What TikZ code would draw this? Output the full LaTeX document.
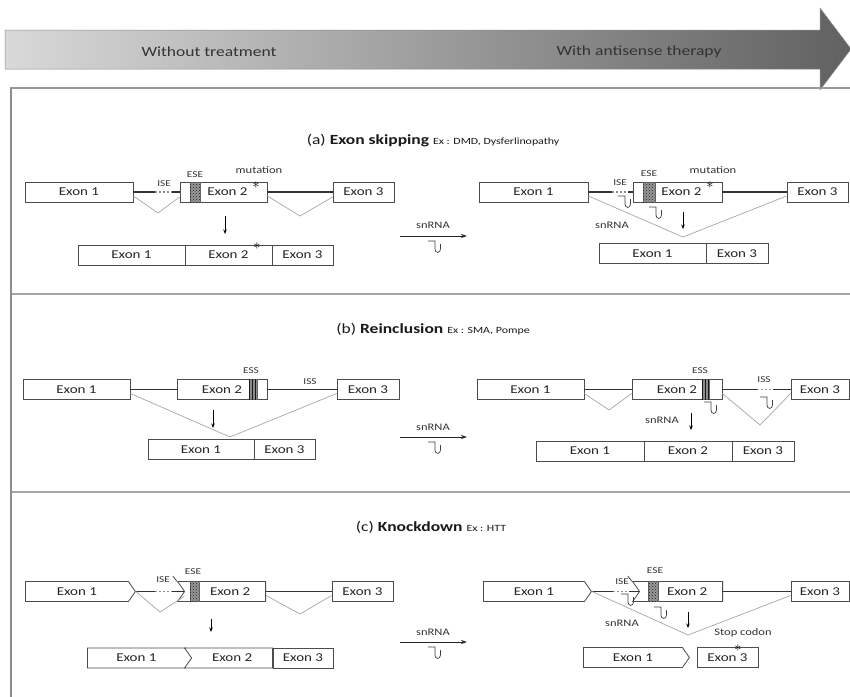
\documentclass[tikz,border=0pt]{standalone}
\usepackage{fontspec}
\setmainfont{Carlito}[FakeStretch=1.25]
\usetikzlibrary{patterns,shapes.symbols,arrows.meta,calc}
\tikzset{
  exon/.style={draw=black!70, fill=white, line width=0.8pt, minimum height=20pt, inner sep=0pt, font=\fontsize{12}{12}\selectfont, text=black!85},
  pent/.style={exon, shape=signal, signal to=east, signal pointer angle=110},
  notch/.style={exon, shape=signal, signal from=west, signal to=nowhere, signal pointer angle=110},
  intron/.style={draw=black!80, line width=1.4pt},
  isedash/.style={draw=black!45, line width=1.1pt, dash pattern=on 2pt off 2pt},
  splice/.style={draw=black!35, line width=0.7pt},
  lab/.style={font=\fontsize{9}{9}\selectfont, text=black!80, inner sep=0pt},
  lab2/.style={font=\fontsize{10}{10}\selectfont, text=black!80, inner sep=0pt},
  title/.style={font=\fontsize{14}{14}\selectfont, text=black!90, inner sep=0pt},
  bandtxt/.style={font=\fontsize{14}{14}\selectfont, text=black!80, inner sep=0pt},
  mut/.style={font=\fontsize{15}{15}\selectfont, text=black, inner sep=0pt},
  downarr/.style={draw=black, line width=0.9pt, -{Stealth[length=4.5pt,width=3.5pt]}},
  treat/.style={draw=black!85, line width=0.8pt, -{Stealth[length=6pt,width=4pt]}},
  esehatch/.style={fill=black!40, postaction={pattern=crosshatch dots, pattern color=black!90}, draw=black!60, line width=0.4pt},
  esshatch/.style={fill=black!45, postaction={pattern=vertical lines, pattern color=black!90}, draw=black!60, line width=0.4pt},
  divider/.style={draw=black!35, line width=1.3pt},
  snsym/.pic={\draw[black!75, line width=0.75pt] (-7,0) -- (0,0) -- (0,8) .. controls (0,12.5) and (5.5,12.5) .. (5.5,8) -- (5.5,3);}
}
\newcommand{\smallex}{\fontsize{9.5}{10}\selectfont}
\begin{document}
\begin{tikzpicture}[x=1pt,y=-1pt]
\useasboundingbox (0,0) rectangle (850,696);
\fill[white] (0,0) rectangle (850,696);
% top band
\path[left color=black!15, right color=black!62, draw=black!45, line width=0.5pt]
  (5,30) -- (820,30) -- (820,8) -- (851,49) -- (820,90) -- (820,69) -- (5,69) -- cycle;
\node[bandtxt] (wo) at (209,52) {Without treatment};
\node[bandtxt] (wi) at (639,52) {With antisense therapy};
% frame
\draw[black!45, line width=2.6pt] (11,88) -- (11,697);
\draw[black!40, line width=1.3pt] (10,88) -- (851,88);
\draw[divider] (12,294) -- (851,294);
\draw[divider] (12,492) -- (851,492);

% ================= (a) =================
\node[title] (ta) at (433,141) {(a) \textbf{Exon skipping} {\smallex Ex : DMD, Dysferlinopathy}};
% left
\node[exon, minimum width=108] (a1) at (79,192) {Exon 1};
\node[exon, minimum width=87] (a2) at (223.5,192) {\hspace{8pt}Exon 2};
\node[exon, minimum width=61] (a3) at (363.5,192) {Exon 3};
\draw[esehatch] (190,182) rectangle (200,202);
\coordinate (aI1) at (155,192); \coordinate (aI2) at (172,192);
\draw[intron] (a1.east) -- (aI1); \draw[isedash] (aI1) -- (aI2); \draw[intron] (aI2) -- (a2.west);
\draw[intron] (a2.east) -- (a3.west);
\coordinate (aV1) at (158,213); \coordinate (aV2) at (300,216);
\draw[splice] ([yshift=-4pt]a1.east) -- (aV1) -- ([yshift=-5pt]a2.west);
\draw[splice] ([yshift=-4pt]a2.east) -- (aV2) -- ([yshift=-5pt]a3.west);
\node[lab] (aise) at (164,184) {ISE};
\node[lab] (aese) at (195,175) {ESE};
\node[lab2] (amut) at (259,170) {mutation};
\node[mut] (ast1) at (256,185.5) {$\ast$};
\coordinate (ad1) at (225,216); \coordinate (ad2) at (225,234);
\draw[downarr] (ad1) -- (ad2);
\node[exon, minimum width=107] (ab1) at (131.5,255) {Exon 1};
\node[exon, minimum width=87] (ab2) at (228.5,255) {Exon 2};
\node[exon, minimum width=61] (ab3) at (302.5,255) {Exon 3};
\node[mut] (ast2) at (257,246) {$\ast$};
% middle
\node[lab2] (asn) at (433,225) {snRNA};
\coordinate (at1) at (400,236); \coordinate (at2) at (467,236);
\draw[treat] (at1) -- (at2);
\pic at (435,241) {snsym};
% right
\node[exon, minimum width=109] (ar1) at (533.5,192) {Exon 1};
\node[exon, minimum width=89] (ar2) at (677.5,192) {\hspace{8pt}Exon 2};
\node[exon, minimum width=61] (ar3) at (817.5,192) {Exon 3};
\draw[esehatch] (643,182) rectangle (655,202);
\coordinate (arI1) at (612,192); \coordinate (arI2) at (628,192);
\draw[intron] (ar1.east) -- (arI1); \draw[isedash] (arI1) -- (arI2); \draw[intron] (arI2) -- (ar2.west);
\draw[intron] (ar2.east) -- (ar3.west);
\coordinate (arV) at (683,237);
\draw[splice] ([yshift=-4pt]ar1.east) -- (arV) -- ([yshift=-4pt]ar3.west);
\node[lab] (arise) at (620,183) {ISE};
\node[lab] (arese) at (649,174) {ESE};
\node[lab2] (armut) at (713,170) {mutation};
\node[mut] (ast3) at (710,185.5) {$\ast$};
\pic at (625,196) {snsym};
\pic at (656,207) {snsym};
\node[lab2] (arsn) at (612,225) {snRNA};
\coordinate (ard1) at (683,212); \coordinate (ard2) at (683,229);
\draw[downarr] (ard1) -- (ard2);
\node[exon, minimum width=107] (arb1) at (652.5,253.5) {Exon 1};
\node[exon, minimum width=62] (arb3) at (737,253.5) {Exon 3};

% ================= (b) =================
\node[title] (tb) at (433,329) {(b) \textbf{Reinclusion} {\smallex Ex : SMA, Pompe}};
% left
\node[exon, minimum width=107] (bl1) at (76.5,389.5) {Exon 1};
\node[exon, minimum width=90] (bl2) at (222,389.5) {Exon 2\hspace{6pt}};
\node[exon, minimum width=62] (bl3) at (368,389.5) {Exon 3};
\draw[esshatch] (249,379.5) rectangle (257,399.5);
\draw[intron] (bl1.east) -- (bl2.west);
\draw[intron] (bl2.east) -- (bl3.west);
\coordinate (blV) at (230,437);
\draw[splice] ([yshift=-4pt]bl1.east) -- (blV) -- ([yshift=-4pt]bl3.west);
\node[lab] (bless) at (251,371) {ESS};
\node[lab] (bliss) at (310,382) {ISS};
\coordinate (bld1) at (213,410); \coordinate (bld2) at (213,428);
\draw[downarr] (bld1) -- (bld2);
\node[exon, minimum width=106] (bb1) at (201,449.5) {Exon 1};
\node[exon, minimum width=61] (bb3) at (284.5,449.5) {Exon 3};
% middle
\node[lab2] (bsn) at (433,427) {snRNA};
\coordinate (bt1) at (400,437); \coordinate (bt2) at (467,437);
\draw[treat] (bt1) -- (bt2);
\pic at (435,442) {snsym};
% right
\node[exon, minimum width=107] (br1) at (530.5,389.5) {Exon 1};
\node[exon, minimum width=90] (br2) at (677,389.5) {Exon 2\hspace{6pt}};
\node[exon, minimum width=58] (br3) at (820,389.5) {Exon 3};
\draw[esshatch] (702,379.5) rectangle (709,399.5);
\coordinate (brI1) at (757,389.5); \coordinate (brI2) at (773,389.5);
\draw[intron] (br1.east) -- (br2.west);
\draw[intron] (br2.east) -- (brI1); \draw[isedash] (brI1) -- (brI2); \draw[intron] (brI2) -- (br3.west);
\coordinate (brV1) at (609,410); \coordinate (brV2) at (760,425);
\draw[splice] ([yshift=-4pt]br1.east) -- (brV1) -- ([yshift=-4pt]br2.west);
\draw[splice] ([yshift=-4pt]br2.east) -- (brV2) -- ([yshift=-4pt]br3.west);
\node[lab] (bress) at (700,371) {ESS};
\node[lab] (briss) at (764,380) {ISS};
\pic at (767,397) {snsym};
\pic at (711,402) {snsym};
\node[lab2] (brsn) at (662,420) {snRNA};
\coordinate (brd1) at (691,413); \coordinate (brd2) at (691,430);
\draw[downarr] (brd1) -- (brd2);
\node[exon, minimum width=108] (brb1) at (590,451) {Exon 1};
\node[exon, minimum width=88] (brb2) at (688,451) {Exon 2};
\node[exon, minimum width=62] (brb3) at (763,451) {Exon 3};

% ================= (c) =================
\node[title] (tc) at (431,527) {(c) \textbf{Knockdown} {\smallex Ex : HTT}};
% left
\node[pent, minimum width=110, anchor=west] (cl1) at (25,591.5) {Exon 1};
\node[notch, minimum width=88, anchor=east] (cl2) at (266,591.5) {\hspace{10pt}Exon 2};
\node[exon, minimum width=61] (cl3) at (362.5,591.5) {Exon 3};
\draw[esehatch] (190,581.5) rectangle (199,601.5);
\coordinate (clI1) at (155,591.5); \coordinate (clI2) at (172,591.5);
\draw[intron] (cl1.east) -- (clI1); \draw[isedash] (clI1) -- (clI2); \draw[intron] (clI2) -- (cl2.west);
\draw[intron] (cl2.east) -- (cl3.west);
\draw[black!70, line width=0.8pt] ($(cl2.north west)+(-4,-5)$) -- (cl2.north west);
\coordinate (clV1) at (160,612); \coordinate (clV2) at (300,614);
\draw[splice] (cl1.east) -- (clV1) -- ([yshift=-5pt]cl2.west);
\draw[splice] ([yshift=-4pt]cl2.east) -- (clV2) -- ([yshift=-4pt]cl3.west);
\node[lab] (clise) at (163,580) {ISE};
\node[lab] (clese) at (193,572) {ESE};
\coordinate (cld1) at (211,619); \coordinate (cld2) at (211,632);
\draw[downarr] (cld1) -- (cld2);
\node[pent, minimum width=105, anchor=west] (cb1) at (87,658) {Exon 1};
\node[notch, minimum width=88, anchor=east] (cb2) at (273,658) {Exon 2};
\node[exon, minimum width=60] (cb3) at (303,658) {Exon 3};
% middle
\node[lab2] (csn) at (433,632) {snRNA};
\coordinate (ct1) at (400,642); \coordinate (ct2) at (467,642);
\draw[treat] (ct1) -- (ct2);
\pic at (435,647) {snsym};
% right
\node[pent, minimum width=108, anchor=west] (cr1) at (483,591.5) {Exon 1};
\node[notch, minimum width=90, anchor=east] (cr2) at (723,591.5) {\hspace{12pt}Exon 2};
\node[exon, minimum width=58] (cr3) at (820,591.5) {Exon 3};
\draw[esehatch] (648,581.5) rectangle (658,601.5);
\coordinate (crI1) at (613,591.5); \coordinate (crI2) at (629,591.5);
\draw[intron] (cr1.east) -- (crI1); \draw[isedash] (crI1) -- (crI2); \draw[intron] (crI2) -- (cr2.west);
\draw[intron] (cr2.east) -- (cr3.west);
\draw[black!70, line width=0.8pt] ($(cr2.north west)+(-4,-5)$) -- (cr2.north west);
\coordinate (crV) at (688,635);
\draw[splice] (cr1.east) -- (crV) -- ([yshift=-4pt]cr3.west);
\node[lab] (crise) at (622,582) {ISE};
\node[lab] (crese) at (655,571) {ESE};
\pic at (628,594) {snsym};
\pic at (661,607) {snsym};
\node[lab2] (crsn) at (622,623) {snRNA};
\coordinate (crd1) at (688,612); \coordinate (crd2) at (688,628);
\draw[downarr] (crd1) -- (crd2);
\node[pent, minimum width=106, anchor=west] (crb1) at (583,657.5) {Exon 1};
\node[exon, minimum width=61] (crb3) at (727.5,657.5) {Exon 3};
\node[lab2] (stop) at (743,633) {Stop codon};
\node[mut] (ast4) at (738,648) {$\ast$};
\end{tikzpicture}
\end{document}
